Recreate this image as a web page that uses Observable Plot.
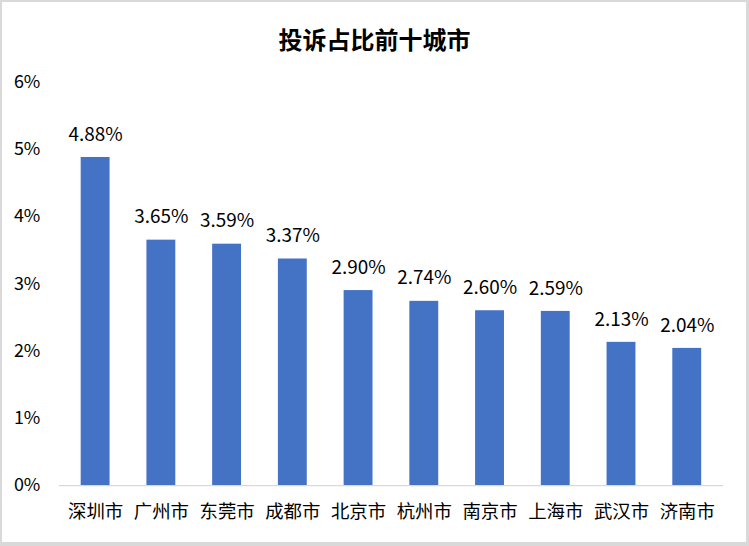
<!DOCTYPE html>
<html>
<head>
<meta charset="utf-8">
<script src="https://cdn.jsdelivr.net/npm/d3@7"></script>
<script src="https://cdn.jsdelivr.net/npm/@observablehq/plot@0.6"></script>
<style>
  html, body { margin: 0; padding: 0; background: #fff; }
  #wrap { position: relative; width: 749px; height: 546px; box-sizing: border-box; border-style: solid; border-color: #d9d9d9; border-width: 2px 3px 4px 2px; overflow: hidden; font-family: "Noto Sans CJK SC", "Noto Sans", sans-serif; }
  #title { position: absolute; left: -2px; top: 22px; width: 749px; text-align: center; font-size: 24px; font-weight: bold; color: #000; line-height: 30px; }
  #chart { position: absolute; left: -2px; top: -2px; }
</style>
</head>
<body>
<div id="wrap">
  <div id="title">投诉占比前十城市</div>
  <div id="chart"></div>
</div>
<script>
const cities = ["深圳市", "广州市", "东莞市", "成都市", "北京市", "杭州市", "南京市", "上海市", "武汉市", "济南市"];
const shares = [0.0488, 0.0365, 0.0359, 0.0337, 0.0290, 0.0274, 0.0260, 0.0259, 0.0213, 0.0204];
const yTicks = [0, 0.01, 0.02, 0.03, 0.04, 0.05, 0.06];

const data = cities.map((c, i) => ({city: c, share: shares[i]}));

const chart = Plot.plot({
  width: 749,
  height: 546,
  marginTop: 82,
  marginBottom: 59,
  marginLeft: 59,
  marginRight: 23,
  style: { fontFamily: '"Noto Sans CJK SC", "Noto Sans", sans-serif', fontSize: "18px", color: "#000", background: "transparent" },
  x: { domain: cities, paddingInner: 0.56, paddingOuter: 0.28, label: null },
  y: { domain: [0, 0.06], label: null },
  marks: [
    Plot.axisY({ ticks: yTicks, tickFormat: d3.format(".0%"), tickSize: 0, tickPadding: 19, fontSize: 18, label: null }),
    Plot.axisX({ tickSize: 0, tickPadding: 19, fontSize: 18.5, label: null }),
    Plot.barY(data, { x: "city", y: "share", fill: "#4472C4" }),
    Plot.ruleY([0], { stroke: "#d9d9d9", strokeWidth: 1.2 }),
    Plot.text(data, { x: "city", y: "share", text: d => (d.share * 100).toFixed(2) + "%", dy: -23, fontSize: 19, fill: "#000" })
  ]
});
document.getElementById("chart").appendChild(chart);
</script>
</body>
</html>
